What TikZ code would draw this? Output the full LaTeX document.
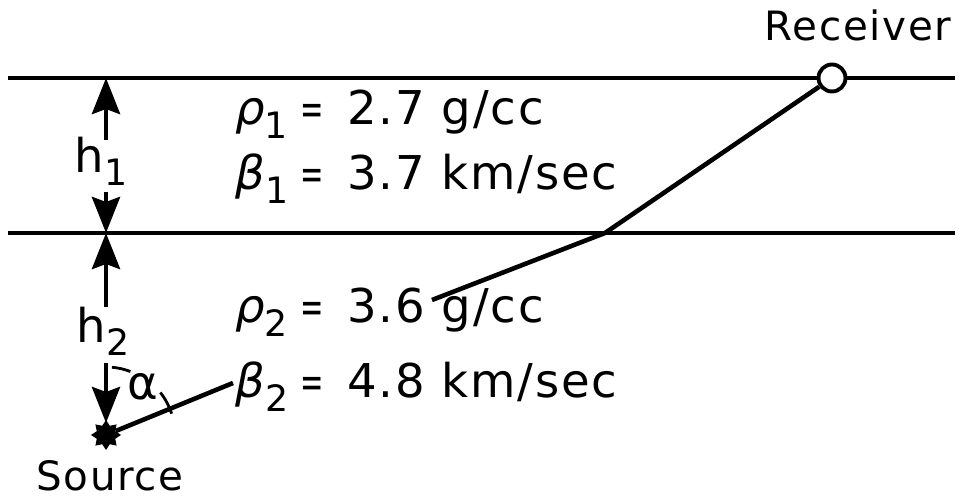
\documentclass[tikz,border=0pt]{standalone}
\usepackage{fontspec}
\setmainfont{DejaVu Sans}[LetterSpace=4]
\usetikzlibrary{arrows.meta,shapes.geometric}

\newcommand\idx[1]{\raisebox{-0.28em}{\scalebox{0.78}{#1}}}
\newcommand\gleich{\makebox[0.94cm][l]{\scalebox{0.6}[0.95]{=}}}

\tikzset{
  schicht/.style={line width=2.6pt},
  strahl/.style={line width=2.6pt},
  masspfeil/.style={line width=2.6pt,-{Stealth[length=0.72cm,width=0.56cm,inset=0.1cm]}},
  beschr/.style={font=\fontsize{23}{26}\selectfont, inner sep=0pt},
  wert/.style={font=\fontsize{26.5}{30}\selectfont, inner sep=0pt, anchor=base west},
  winkel/.style={line width=1.6pt}
}

\begin{document}
\begin{tikzpicture}

  \useasboundingbox (0,0) rectangle (19.22,10.02);

  % Schichtgrenzen
  \coordinate (oben links)  at (0.16,8.46);
  \coordinate (oben rechts) at (19.10,8.46);
  \coordinate (mitte links) at (0.16,5.36);
  \coordinate (mitte rechts) at (19.10,5.36);

  \draw[schicht]
    (oben links) --
    (oben rechts);

  \draw[schicht]
    (mitte links) --
    (mitte rechts);

  % Empfaenger und Quelle
  \node[circle, draw, fill=white, line width=2.2pt, minimum size=0.54cm, inner sep=0pt]
    (empf) at (16.64,8.46) {};
  \node[beschr] (empf text) at (17.16,9.52) {Receiver};

  \node[star, star points=8, star point ratio=1.5, fill, minimum size=0.6cm, inner sep=0pt]
    (quelle) at (2.12,1.32) {};
  \node[beschr] (quelle text) at (2.20,0.50) {Source};

  % Strahlweg
  \coordinate (knick) at (12.10,5.36);
  \coordinate (strahl ende) at (8.64,4.02);
  \coordinate (quell ende) at (4.66,2.36);

  \draw[strahl]
    (strahl ende) --
    (knick) --
    (empf);

  \draw[strahl]
    (quelle) --
    (quell ende);

  % Winkel alpha
  \draw[winkel] (quelle) ++(85:1.36) arc[start angle=85, end angle=69, radius=1.36];
  \draw[winkel] (quelle) ++(38:1.38) arc[start angle=38, end angle=18, radius=1.38];
  \node[wert, anchor=center] (alpha) at (2.86,2.28) {α};

  % Schichtdicken
  \coordinate (h1 fuss oben)  at (2.12,7.22);
  \coordinate (h1 fuss unten) at (2.12,6.18);
  \coordinate (h1 spitze oben) at (2.12,8.46);
  \coordinate (h1 spitze unten) at (2.12,5.36);
  \node[wert, anchor=center] (h1) at (2.02,6.80) {h\idx{1}};

  \draw[masspfeil] (h1 fuss oben) -- (h1 spitze oben);
  \draw[masspfeil] (h1 fuss unten) -- (h1 spitze unten);

  \coordinate (h2 fuss oben)  at (2.12,3.88);
  \coordinate (h2 fuss unten) at (2.12,2.76);
  \coordinate (h2 spitze oben) at (2.12,5.36);
  \coordinate (h2 spitze unten) at (2.12,1.56);
  \node[wert, anchor=center] (h2) at (2.06,3.40) {h\idx{2}};

  \draw[masspfeil] (h2 fuss oben) -- (h2 spitze oben);
  \draw[masspfeil] (h2 fuss unten) -- (h2 spitze unten);

  % Materialwerte
  \node[wert] (rho1)  at (4.70,7.52) {{\itshape ρ}\idx{1}};
  \node[wert] (rho1 wert)  at (6.00,7.52) {\gleich 2.7 g/cc};
  \node[wert] (beta1) at (4.70,6.22) {{\itshape β}\idx{1}};
  \node[wert] (beta1 wert) at (6.00,6.22) {\gleich 3.7 km/sec};
  \node[wert] (rho2)  at (4.70,3.56) {{\itshape ρ}\idx{2}};
  \node[wert] (rho2 wert)  at (6.00,3.56) {\gleich 3.6 g/cc};
  \node[wert] (beta2) at (4.70,2.06) {{\itshape β}\idx{2}};
  \node[wert] (beta2 wert) at (6.00,2.06) {\gleich 4.8 km/sec};

\end{tikzpicture}
\end{document}
